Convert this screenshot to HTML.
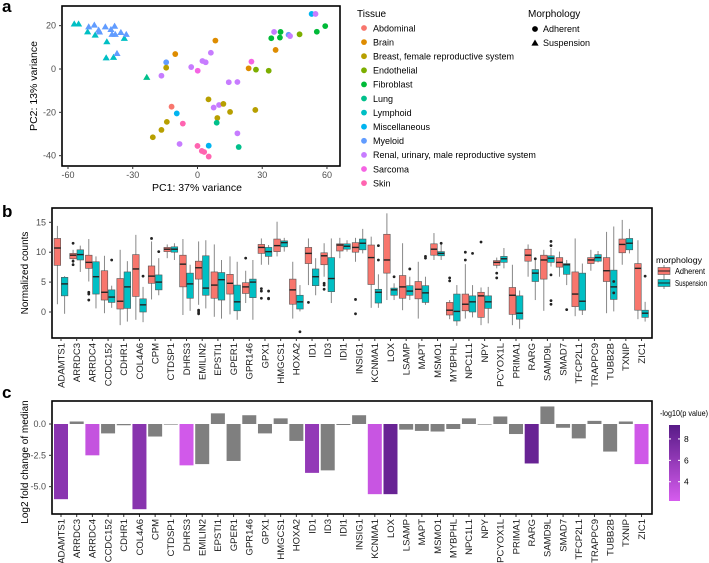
<!DOCTYPE html>
<html><head><meta charset="utf-8"><style>
html,body{margin:0;padding:0;background:#fff;}
svg{display:block;font-family:"Liberation Sans",sans-serif;}
</style></head><body>
<svg id="fig" width="709" height="563" viewBox="0 0 709 563"></svg>
<script>
// ---------- Panel a data ----------
const tissues=["Abdominal","Brain","Breast, female reproductive system","Endothelial","Fibroblast","Lung","Lymphoid","Miscellaneous","Myeloid","Renal, urinary, male reproductive system","Sarcoma","Skin"];
const tissueColors=["#F8766D","#DE8C00","#B79F00","#7CAE00","#00BA38","#00C08B","#00BFC4","#00B4F0","#619CFF","#C77CFF","#F564E3","#FF64B0"];
const pcaX=[-57.1,-55.1,-50.9,-47.4,-42.0,-42.3,-38.9,-33.9,-23.5,-50.4,-47.8,-45.8,-45.4,-42.7,-40.1,-38.4,-39.6,-38.1,-35.5,-33.0,-37.3,
-14.5,-14.5,-16.7,-10.3,-2.9,0.1,2.3,3.8,6.2,8.3,14.5,18.5,23.7,25.0,27.1,33.0,34.2,36.2,35.5,38.5,38.2,42.2,42.9,47.3,52.9,54.7,59.2,55.3,
-12.0,-9.6,-14.2,-16.7,-20.7,-6.8,-8.3,0.0,2.0,3.1,5.2,5.2,5.1,7.5,10.0,12.0,15.1,9.2,8.9,18.5,19.1,26.8];
const pcaY=[20.8,20.8,17.2,15.7,12.6,5.2,5.4,14.2,-3.8,19.5,20.3,18.0,17.1,19.5,18.3,19.8,16.0,16.0,16.9,16.0,7.2,
3.1,0.6,-3.1,6.9,0.9,-0.8,3.7,3.1,7.5,13.1,-6.1,-6.0,0.3,3.4,-0.3,-0.8,14.2,8.8,17.1,17.1,14.5,15.8,15.2,16.0,25.4,25.4,19.8,17.2,
-17.4,-20.5,-24.4,-28.1,-31.5,-25.2,-34.6,-35.5,-37.8,-38.3,-40.4,-35.4,-14.0,-17.8,-16.6,-16.1,-19.8,-22.6,-24.8,-29.7,-36.0,-18.9];
const pcaTissue=[6,6,6,6,6,6,6,6,5,8,8,8,8,8,8,8,8,8,8,8,8,
8,2,9,1,9,10,9,9,9,1,9,9,1,10,3,3,4,1,9,4,4,8,9,3,7,9,4,4,
0,7,2,2,2,11,9,11,11,11,11,7,2,9,9,2,2,2,5,9,5,2];
const pcaMorph=pcaX.map((v,i)=>i<21?"S":"A");

// ---------- Panel b/c data ----------
const genes=["ADAMTS1","ARRDC3","ARRDC4","CCDC152","CDHR1","COL4A6","CPM","CTDSP1","DHRS3","EMILIN2","EPSTI1","GPER1","GPR146","GPX1","HMGCS1","HOXA2","ID1","ID3","IDI1","INSIG1","KCNMA1","LOX","LSAMP","MAPT","MSMO1","MYBPHL","NPC1L1","NPY","PCYOX1L","PRIMA1","RARG","SAMD9L","SMAD7","TFCP2L1","TRAPPC9","TUBB2B","TXNIP","ZIC1"];
// [low, q1, median, q3, high]
const adhStats=[[1.3,7.8,10.7,12.3,14.4],[8.1,8.9,9.5,9.8,10.4],[5.1,7.3,8.3,9.5,12.2],[-0.2,2.0,3.3,6.9,9.4],[-2.2,0.5,1.8,5.6,10.4],[-1.3,2.6,7.2,9.6,12.9],[2.1,4.8,6.0,7.7,11.8],[9.0,10.1,10.5,10.8,11.3],[-0.5,4.2,8.0,9.5,12.2],[1.2,5.5,7.4,8.5,11.8],[-0.8,2.3,4.5,6.7,11.3],[-0.4,3.0,4.8,6.3,9.3],[1.5,3.1,4.2,4.9,6.9],[7.9,9.8,10.8,11.3,12.3],[9.3,10.1,11.1,12.2,15.1],[-1.1,1.3,3.7,5.5,8.4],[4.5,8.1,9.8,10.8,12.3],[5.9,7.9,9.4,9.9,11.5],[9.0,10.2,11.2,11.4,12.4],[8.4,10.0,10.8,11.6,12.4],[0.7,4.6,9.1,11.2,12.6],[2.0,6.5,8.7,13.0,16.5],[0.3,2.3,4.2,6.1,11.5],[-1.1,2.2,3.8,5.1,8.4],[8.7,9.5,10.5,11.4,13.2],[-1.2,-0.5,0.3,1.6,2.0],[-1.1,0.2,1.3,3.0,8.0],[-2.2,-0.9,2.7,3.3,4.1],[7.3,7.8,8.3,8.6,9.1],[-2.2,-0.4,2.8,4.1,7.9],[5.9,8.5,9.5,10.5,11.3],[0.2,5.5,8.7,9.5,10.4],[5.9,7.5,8.3,9.1,10.1],[-0.7,0.9,3.0,6.7,12.3],[6.9,8.1,8.7,9.1,10.4],[-0.2,5.1,6.9,9.1,13.4],[7.9,9.9,11.3,12.2,15.4],[-1.2,0.3,7.3,8.1,12.0]];
const susStats=[[-0.3,2.7,4.7,5.8,6.0],[6.7,8.7,9.6,10.4,11.1],[0.6,3.0,5.9,8.4,9.3],[0.7,1.6,2.5,3.7,4.4],[-1.6,0.6,4.2,6.7,8.5],[-1.7,0.0,1.2,2.2,4.2],[2.8,3.7,5.0,6.2,9.0],[8.7,10.0,10.5,10.9,11.5],[0.2,2.3,4.7,6.5,7.9],[0.6,2.8,4.0,9.4,12.0],[-1.1,2.0,5.4,6.6,8.7],[-1.3,0.2,1.7,4.5,8.4],[-1.3,2.4,5.0,5.5,8.7],[7.9,9.3,10.1,10.8,11.2],[10.1,10.9,11.6,11.9,12.4],[0.1,0.5,1.7,2.8,4.5],[2.8,4.4,5.9,7.2,9.0],[1.5,3.4,5.6,9.1,12.3],[10.1,10.5,11.0,11.4,12.0],[9.8,10.4,11.5,12.2,13.9],[0.7,1.5,3.3,3.8,6.3],[2.0,2.8,3.7,4.0,4.8],[2.0,2.8,3.5,4.4,5.9],[1.2,1.6,3.2,4.4,5.9],[8.7,9.4,9.8,10.1,11.5],[-2.3,-1.5,0.1,3.0,4.5],[-0.9,0.0,1.7,2.7,4.5],[-1.9,0.6,1.7,2.7,4.2],[7.3,8.3,8.9,9.3,10.7],[-2.8,-1.2,-0.2,2.7,3.6],[2.0,5.1,6.5,7.1,8.7],[7.6,8.3,9.0,9.4,10.7],[4.5,6.3,7.9,8.1,8.7],[-0.5,0.3,1.8,6.5,8.1],[8.3,8.5,9.1,9.6,10.2],[0.1,2.1,4.2,7.0,14.3],[9.8,10.4,11.5,12.3,13.9],[-1.6,-0.9,-0.2,0.3,1.7]];
const outGene=[1,1,1,2,2,2,3,5,6,6,9,9,9,12,13,13,13,13,13,13,15,16,17,17,17,19,19,20,20,21,22,23,23,24,25,25,26,26,26,27,28,28,30,31,31,31,31,31,32,35,35,37];
const outGroup=["A","A","A","A","A","A","S","S","A","S","A","A","A","A","A","A","A","S","S","S","S","A","A","A","A","A","A","S","S","S","S","S","S","S","A","A","A","A","S","A","A","A","S","S","S","S","S","S","S","S","S","S"];
const outVal=[11.5,8.5,7.9,3.3,3.0,2.0,8.7,6.0,12.3,10.1,0.3,0.0,-0.3,9.0,3.9,3.5,2.3,3.5,2.3,2.2,-3.3,1.6,4.8,4.5,3.8,2.1,-0.3,11.1,8.7,5.9,7.2,9.3,9.0,11.5,5.7,5.2,10.0,8.7,9.8,11.7,6.5,5.7,8.9,11.8,11.1,6.2,1.9,1.3,0.4,5.1,3.2,6.0];
const lfc=[-6.0,0.2,-2.5,-0.75,-0.1,-6.8,-1.0,-0.03,-3.3,-3.2,0.85,-2.95,0.7,-0.75,0.45,-1.35,-3.9,-3.7,-0.08,0.7,-5.6,-5.6,-0.45,-0.55,-0.6,-0.4,0.45,0,0.6,-0.8,-3.15,1.4,-0.3,-1.15,0.25,-2.2,0.2,-3.2];
const pval=[6.5,null,3.2,null,null,6.6,null,null,2.5,null,null,null,null,null,null,null,6.0,null,null,null,3.0,8.4,null,null,null,null,null,null,null,null,8.4,null,null,null,null,null,null,2.6];
const lfcTicks=[0,-2.5,-5];
const countTicks=[0,5,10,15];
const pTicks=[4,6,8];

const NS="http://www.w3.org/2000/svg";
const svg=document.getElementById("fig");
function mk(tag,attrs,parent,txt){const e=document.createElementNS(NS,tag);for(const k in attrs)e.setAttribute(k,attrs[k]);if(txt!==undefined)e.textContent=txt;(parent||svg).appendChild(e);return e;}

// panel labels
["a","b","c"].forEach((l,i)=>{const t=mk("text",{x:2,y:[12,217,398][i],"font-size":17,"font-weight":"bold"},svg,l);

});

// ===== Panel a =====
const ga=mk("g",{});


const ax=v=>68+(v+60)*2.158, ay=v=>69-v*2.167;
const fa=mk("rect",{x:62,y:6,width:278,height:160,fill:"none",stroke:"#000","stroke-width":1.6},ga);


[-60,-30,0,30,60].forEach(v=>{mk("line",{x1:ax(v),x2:ax(v),y1:166,y2:169,stroke:"#333"},ga);
const t=mk("text",{x:ax(v),y:178,"font-size":9,"text-anchor":"middle",fill:"#4d4d4d"},ga,v);

});
[20,0,-20,-40].forEach(v=>{mk("line",{x1:59,x2:62,y1:ay(v),y2:ay(v),stroke:"#333"},ga);
const t=mk("text",{x:56,y:ay(v)+3,"font-size":9,"text-anchor":"end",fill:"#4d4d4d"},ga,v);

});
let t1=mk("text",{x:197,y:191,"font-size":10.5,"text-anchor":"middle"},ga,"PC1: 37% variance");


t1=mk("text",{transform:"translate(37,86) rotate(-90)","font-size":10.5,"text-anchor":"middle"},ga,"PC2: 13% variance");


pcaX.forEach((x,i)=>{const c=tissueColors[pcaTissue[i]];let p;
 if(pcaMorph[i]==="S"){const cx=ax(x),cy=ay(pcaY[i]);p=mk("polygon",{points:`${cx},${cy-3.5} ${cx-3.6},${cy+2.6} ${cx+3.6},${cy+2.6}`,fill:c},ga);}
 else p=mk("circle",{cx:ax(x),cy:ay(pcaY[i]),r:2.9,fill:c},ga);
 
 });
// tissue legend
const lt=mk("g",{});


mk("text",{x:357,y:17,"font-size":10},lt,"Tissue");
tissues.forEach((n,i)=>{const y=28+i*14.1;const c=mk("circle",{cx:364,cy:y,r:2.9,fill:tissueColors[i]},lt);


mk("text",{x:373,y:y+3.3,"font-size":9},lt,n);});
const lm=mk("g",{});


mk("text",{x:528,y:17,"font-size":10},lm,"Morphology");
mk("circle",{cx:535,cy:29,r:2.9,fill:"#000"},lm);mk("text",{x:543,y:32,"font-size":9},lm,"Adherent");
mk("polygon",{points:"535,39.5 531.4,45.6 538.6,45.6",fill:"#000"},lm);mk("text",{x:543,y:46,"font-size":9},lm,"Suspension");

// ===== Panel b =====
const gb=mk("g",{});


const gx=i=>61+i*15.69;
const by=v=>312-v*5.98;
const fb=mk("rect",{x:52,y:208,width:600,height:130,fill:"none",stroke:"#000","stroke-width":1.6},gb);


countTicks.forEach(v=>{mk("line",{x1:49,x2:52,y1:by(v),y2:by(v),stroke:"#333"},gb);
const t=mk("text",{x:46,y:by(v)+3,"font-size":9,"text-anchor":"end",fill:"#4d4d4d"},gb,v);

});
t1=mk("text",{transform:"translate(28,273) rotate(-90)","font-size":10,"text-anchor":"middle"},gb,"Normalized counts");


function drawBox(s,cx,fill,name){const w=6.6;
 const l=mk("line",{x1:cx,x2:cx,y1:by(s[4]),y2:by(s[0]),stroke:"#888","stroke-width":1},gb);
 
 
 const r=mk("rect",{x:cx-w/2,y:by(s[3]),width:w,height:Math.max(0.5,by(s[1])-by(s[3])),fill:fill,stroke:"#555","stroke-width":0.6},gb);
 
 
 mk("line",{x1:cx-w/2,x2:cx+w/2,y1:by(s[2]),y2:by(s[2]),stroke:"#222","stroke-width":1.4},gb);}
genes.forEach((g,i)=>{const c=gx(i);
 mk("line",{x1:c,x2:c,y1:338,y2:341,stroke:"#333"},gb);
 drawBox(adhStats[i],c-3.6,"#F8766D","box-adherent-"+g.toLowerCase());
 drawBox(susStats[i],c+3.6,"#00BFC4","box-suspension-"+g.toLowerCase());
 const t=mk("text",{transform:`translate(${c+3.3},343) rotate(-90)`,"font-size":9.5,"text-anchor":"end",fill:"#1a1a1a"},gb,g);
 
 });
outGene.forEach((gi,k)=>{const c=mk("circle",{cx:gx(gi)+(outGroup[k]==="A"?-3.6:3.6),cy:by(outVal[k]),r:1.4,fill:"#222"},gb);
 
 });
const lb=mk("g",{});


mk("text",{x:656,y:263,"font-size":8.5,textLength:46,lengthAdjust:"spacingAndGlyphs"},lb,"morphology");
[["Adherent","#F8766D",271,30],["Suspension","#00BFC4",283,32]].forEach(([n,c,y,tl])=>{
 mk("line",{x1:664,x2:664,y1:y-6,y2:y+6,stroke:"#888"},lb);
 const r=mk("rect",{x:658,y:y-3.5,width:12,height:7,fill:c,stroke:"#555","stroke-width":0.6},lb);
 
 
 mk("line",{x1:658,x2:670,y1:y,y2:y,stroke:"#222"},lb);
 mk("text",{x:675,y:y+3,"font-size":8,textLength:tl,lengthAdjust:"spacingAndGlyphs"},lb,n);});

// ===== Panel c =====
const gc=mk("g",{});


const cy=v=>424-v*12.53;
function pcol(p){const t=Math.max(0,Math.min(1,(p-2.2)/(9.3-2.2)));
 const a=[214,92,238],b=[88,27,135];return `rgb(${a.map((v,j)=>Math.round(v+(b[j]-v)*t)).join(",")})`;}
genes.forEach((g,i)=>{const v=lfc[i];const y0=cy(Math.max(0,v)),h=Math.max(0.6,Math.abs(cy(v)-cy(0)));
 const r=mk("rect",{x:gx(i)-7,y:y0,width:14,height:h,fill:pval[i]==null?"#7f7f7f":pcol(pval[i])},gc);
 
 
 mk("line",{x1:gx(i),x2:gx(i),y1:514,y2:517,stroke:"#333"},gc);
 const t=mk("text",{transform:`translate(${gx(i)+3.3},519) rotate(-90)`,"font-size":9.5,"text-anchor":"end",fill:"#1a1a1a"},gc,g);
 
 });
const fc=mk("rect",{x:52,y:401,width:600,height:113,fill:"none",stroke:"#000","stroke-width":1.6},gc);


lfcTicks.forEach(v=>{mk("line",{x1:49,x2:52,y1:cy(v),y2:cy(v),stroke:"#333"},gc);
const t=mk("text",{x:46,y:cy(v)+3,"font-size":9,"text-anchor":"end",fill:"#4d4d4d"},gc,v.toFixed(1));

});
t1=mk("text",{transform:"translate(28,462) rotate(-90)","font-size":10,"text-anchor":"middle"},gc,"Log2 fold change of median");


// colorbar
const cb=mk("g",{});


mk("text",{x:660,y:416,"font-size":8,textLength:48,lengthAdjust:"spacingAndGlyphs"},cb,"-log10(p value)");
const defs=mk("defs",{},cb);const lg=mk("linearGradient",{id:"pg",x1:0,y1:1,x2:0,y2:0},defs);
mk("stop",{offset:"0","stop-color":pcol(2.2)},lg);mk("stop",{offset:"1","stop-color":pcol(9.3)},lg);
mk("rect",{x:669,y:425,width:11,height:76,fill:"url(#pg)"},cb);
const pscale=v=>501-(v-2.2)*10.7;
pTicks.forEach(v=>{mk("line",{x1:669,x2:671,y1:pscale(v),y2:pscale(v),stroke:"#fff"},cb);mk("line",{x1:678,x2:680,y1:pscale(v),y2:pscale(v),stroke:"#fff"},cb);
 mk("text",{x:684,y:pscale(v)+3,"font-size":8.5},cb,v);});
</script>
</body></html>
